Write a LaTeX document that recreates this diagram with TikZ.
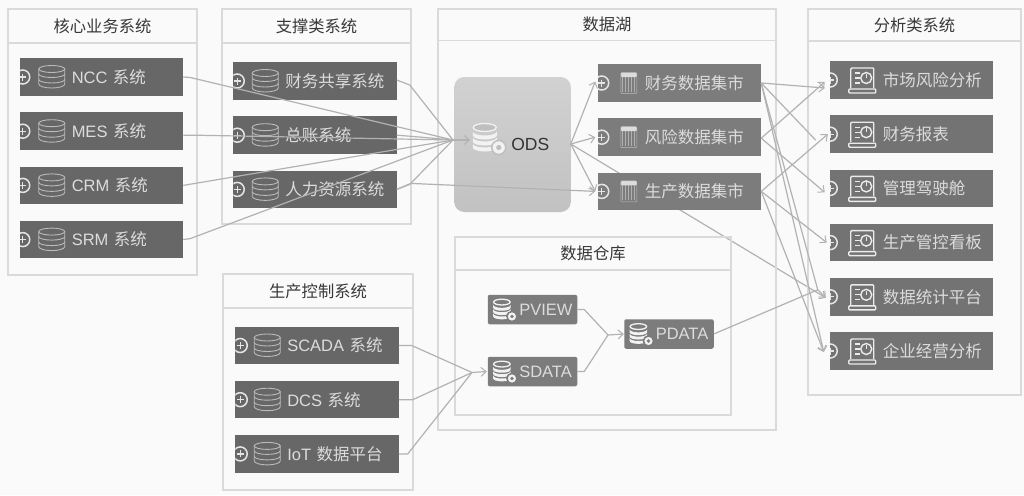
\documentclass[tikz,border=0pt]{standalone}
\usepackage{xcolor}
\usepackage{fontspec}
\setmainfont{Liberation Sans}
\newfontfamily\cjk{Noto Sans CJK SC}
\usetikzlibrary{arrows.meta,positioning,backgrounds}

\definecolor{pagebg}{HTML}{FAFAFA}
\definecolor{panelline}{HTML}{DADADA}
\definecolor{tiledark}{HTML}{676767}
\definecolor{tilemid}{HTML}{7C7C7C}
\definecolor{tileink}{HTML}{DCDCDC}
\definecolor{linkgray}{HTML}{B2B2B2}

% Little marks painted on the tiles: #1 tile, #2 offset of the plus
\newcommand{\plusglyph}[2]{
  \begin{scope}
    \clip (#1.north west) rectangle (#1.south east);
    \begin{scope}[shift={(#1.west)}]
      \draw[glyph, line width=1.5pt, draw=white!90!black] (#2,0) circle (7);
      \draw[glyph, line width=1.2pt, draw=white!90!black] (#2-3.5,0) -- (#2+3.5,0) (#2,-3.5) -- (#2,3.5);
    \end{scope}
  \end{scope}
}
\newcommand{\dbglyph}[1]{
  \begin{scope}[shift={(#1.west)}]
    \draw[glyph] (32,-8) ellipse (13 and 3.5);
    \draw[glyph] (19,-8) -- (19,7) arc[start angle=180, end angle=0, x radius=13, y radius=4] -- (45,-8);
    \draw[glyph] (19,-3) arc[start angle=180, end angle=0, x radius=13, y radius=3.5];
    \draw[glyph] (19,2.5) arc[start angle=180, end angle=0, x radius=13, y radius=3.5];
  \end{scope}
}
\newcommand{\tableglyph}[1]{
  \begin{scope}[shift={(#1.west)}]
    \draw[glyph, line width=.25pt, draw=tileink!55!tilemid, step=3] (24,-6) grid (38,9);
    \fill[tileink, rounded corners=1pt] (23,-10.5) rectangle (39,-6);
    \draw[glyph, line width=.5pt, rounded corners=1pt] (23,-10.5) rectangle (39,10.5);
  \end{scope}
}
\newcommand{\screenglyph}[1]{
  \begin{scope}[shift={(#1.west)}, glyph/.append style={draw=white!92!black}]
    \draw[glyph, line width=1.4pt, rounded corners=1pt] (21,8) -- (21,-12) -- (44,-12) -- (44,8);
    \draw[glyph, line width=1.4pt, rounded corners=1pt] (19,9) -- (46,9) -- (46,13) -- (19,13) -- cycle;
    \draw[glyph, line width=1.1pt] (25,-7) -- (30,-7) (25,-2) -- (30,-2) (25,3) -- (30,3);
    \draw[glyph, line width=1.4pt] (36.5,-2) circle (5.5);
    \draw[glyph, line width=1pt] (36.5,-2) -- (36.5,-6);
  \end{scope}
}
% #1 tile, #2 place, #3 scale, #4 colour of the gear's eye
\newcommand{\stackglyph}[4]{
  \begin{scope}[shift={(#1.west)}]
  \begin{scope}[shift={#2}, scale=#3]
    \draw[white!95!black, line width=1.3pt, fill=#4] (-4,-11) ellipse (11.5 and 4);
    \fill[white!95!black] (-16,-7) arc[start angle=180, end angle=0, x radius=12, y radius=4] -- (8,-3) arc[start angle=0, end angle=180, x radius=12, y radius=4] -- cycle;
    \fill[white!95!black] (-16,-1) arc[start angle=180, end angle=0, x radius=12, y radius=4] -- (8,3) arc[start angle=0, end angle=180, x radius=12, y radius=4] -- cycle;
    \fill[white!95!black] (-16,5) arc[start angle=180, end angle=0, x radius=12, y radius=4] -- (8,9) arc[start angle=0, end angle=180, x radius=12, y radius=4] -- cycle;
    \draw[#4, line width=1.5pt, fill=white!95!black] (10,9) circle (7);
    \fill[#4] (10,9) circle (2.6);
  \end{scope}
  \end{scope}
}

\begin{document}
\begin{tikzpicture}[
    x=1pt, y=-1pt,
    node distance=16.7pt,
    glyph/.style={draw=tileink!85!black, line width=.9pt},
    % Frames with a title strip
    panel/.style={draw=panelline, line width=1.2pt, outer sep=0pt, inner sep=0pt, anchor=north west},
    panelhead/.style={draw=panelline, line width=1.2pt, outer sep=0pt, inner sep=0pt, anchor=north, minimum height=34pt, text=black!78, font=\fontsize{16.3}{17}\selectfont\cjk},
    % Dark tiles, the text starts after the marks
    tile/.style={rectangle, inner sep=0pt, outer sep=0pt, minimum height=37.5pt, text width=163.5pt, align=left, text=tileink, font=\fontsize{16.5}{17}\selectfont, execute at begin node={\hspace*{#1}}},
    srcbox/.style={tile=52pt, fill=tiledark},
    martbox/.style={tile=47pt, fill=tilemid},
    reportbox/.style={tile=53pt, fill=tilemid!93!black},
    storebox/.style={rectangle, rounded corners=2pt, inner sep=0pt, outer sep=0pt, minimum height=29.5pt, text width=89.5pt, align=left, fill=tilemid, text=tileink, font=\fontsize{16.5}{17}\selectfont, execute at begin node={\hspace*{31.5pt}}},
    odsbox/.style={rectangle, rounded corners=10pt, inner sep=0pt, outer sep=0pt, minimum height=135pt, text width=116.5pt, align=left, top color=black!18, bottom color=black!24, text=black!80, font=\fontsize{17.5}{18}\selectfont, execute at begin node={\hspace*{57pt}}},
    link/.style={draw=linkgray, line width=1.2pt},
    arrow/.style={link, -{Straight Barb[length=5pt, width=9pt, line width=1pt]}}
  ]
  \path[use as bounding box] (0,0) rectangle (1024,495);

  % Frames
  \node[panel, minimum width=189pt, minimum height=266pt] (corepanel) at (8,9) {};
  \node[panelhead, minimum width=189pt] (corehead) at (corepanel.north) {核心业务系统};
  \node[panel, minimum width=189pt, minimum height=215pt] (backpanel) at (222,9) {};
  \node[panelhead, minimum width=189pt] (backhead) at (backpanel.north) {支撑类系统};
  \node[panel, minimum width=190pt, minimum height=216pt] (ctrlpanel) at (223,274) {};
  \node[panelhead, minimum width=190pt] (ctrlhead) at (ctrlpanel.north) {生产控制系统};
  \node[panel, minimum width=338pt, minimum height=421pt] (lakepanel) at (438,9) {};
  \node[panelhead, minimum width=338pt, minimum height=31.5pt] (lakehead) at (lakepanel.north) {数据湖};
  \node[panel, minimum width=276pt, minimum height=178pt] (dwpanel) at (455,237) {};
  \node[panelhead, minimum width=276pt, minimum height=33pt] (dwhead) at (dwpanel.north) {数据仓库};
  \node[panel, minimum width=213pt, minimum height=386pt] (bipanel) at (808,9) {};
  \node[panelhead, minimum width=213pt, minimum height=32pt] (bihead) at (bipanel.north) {分析类系统};

  % Source systems
  \node[srcbox] (ncc) at (101.5,77) {NCC {\cjk 系统}};
  \node[srcbox, below=of ncc] (mes) {MES {\cjk 系统}};
  \node[srcbox, below=of mes] (crm) {CRM {\cjk 系统}};
  \node[srcbox, below=of crm] (srm) {SRM {\cjk 系统}};

  \node[srcbox] (share) at (315,81) {\cjk 财务共享系统};
  \node[srcbox, below=of share] (ledger) {\cjk 总账系统};
  \node[srcbox, below=of ledger] (hr) {\cjk 人力资源系统};

  \node[srcbox] (scada) at (317,345.5) {SCADA {\cjk 系统}};
  \node[srcbox, below=of scada] (dcs) {DCS {\cjk 系统}};
  \node[srcbox, below=of dcs] (iot) {IoT {\cjk 数据平台}};

  % Lake
  \node[odsbox] (ods) at (512.5,144.5) {ODS};
  \node[martbox] (fmart) at (679.5,83) {\cjk 财务数据集市};
  \node[martbox, below=of fmart] (rmart) {\cjk 风险数据集市};
  \node[martbox, below=of rmart] (pmart) {\cjk 生产数据集市};

  % Warehouse
  \node[storebox] (pview) at (532.5,309.5) {PVIEW};
  \node[storebox] (sdata) at (532.5,371.5) {SDATA};
  \node[storebox] (pdata) at (669,334) {PDATA};

  % Reports
  \node[reportbox] (market) at (911.5,80) {\cjk 市场风险分析};
  \node[reportbox, below=of market] (finrep) {\cjk 财务报表};
  \node[reportbox, below=of finrep] (cockpit) {\cjk 管理驾驶舱};
  \node[reportbox, below=of cockpit] (board) {\cjk 生产管控看板};
  \node[reportbox, below=of board] (stats) {\cjk 数据统计平台};
  \node[reportbox, below=of stats] (biz) {\cjk 企业经营分析};

  % Marks
  \foreach \tile/\off in {ncc/3, mes/3, crm/3, srm/3, share/4, ledger/4, hr/4, scada/5, dcs/5, iot/5} {
    \plusglyph{\tile}{\off}
    \dbglyph{\tile}
  }
  \foreach \tile in {fmart, rmart, pmart} {
    \plusglyph{\tile}{4}
    \tableglyph{\tile}
  }
  \foreach \tile in {market, finrep, cockpit, board, stats, biz} {
    \plusglyph{\tile}{0.5}
    \screenglyph{\tile}
  }
  \foreach \tile in {pview, sdata, pdata} {
    \stackglyph{\tile}{(17,0.5)}{.72}{tilemid}
  }
  \stackglyph{ods}{(34.5,-6)}{1}{black!25}

  % Junctions in front of the targets
  \coordinate (odsin) at (453,140);
  \coordinate (odstip) at (470,140);
  \coordinate (sdatain) at (472,372.5);
  \coordinate (pdatain) at (608,335);

  % Into ODS
  \draw[link] (ncc.east) -- ++(7,0.5) -- (odsin);
  \draw[link] ([yshift=-4pt]mes.east) -- ++(12,0) -- (odsin);
  \draw[link] (crm.east) -- (odsin);
  \draw[link] (srm.east) -- ++(7,-1) -- (odsin);
  \draw[link] ([yshift=1pt]share.east) -- ++(13,5) -- (odsin);
  \draw[link] (ledger.east) -- ++(13,1) -- (odsin);
  \draw[link] (hr.east) -- ++(13,-5) -- (odsin);
  \draw[arrow] (odsin) -- (odstip);
  \draw[arrow] (hr.east) -- ++(14,-6) -- ([xshift=-2.5pt]pmart.west);

  % Out of ODS
  \draw[arrow] ([yshift=0.5pt]ods.east) -- ([xshift=-2.5pt, yshift=1.5pt]fmart.west);
  \draw[arrow] ([yshift=0.5pt]ods.east) -- ([xshift=-2.5pt]rmart.west);
  \draw[arrow] ([yshift=0.5pt]ods.east) -- ([xshift=-2.5pt]pmart.west);
  \begin{scope}[on background layer]
    \fill[pagebg] (0,0) rectangle (1024,495);
    \draw[arrow] ([yshift=0.5pt]ods.east) -- ([xshift=-4pt, yshift=-1pt]stats.west);
  \end{scope}

  % Marts to reports
  \draw[arrow] (fmart.east) -- ([xshift=-5pt, yshift=-8pt]market.west);
  \draw[link] (fmart.east) -- ([xshift=-14pt, yshift=-6pt]finrep.west);
  \draw[link] (fmart.east) -- ([xshift=-12pt, yshift=7pt]stats.west);
  \draw[arrow] (fmart.east) -- ([xshift=-6pt, yshift=-1pt]biz.west);
  \draw[arrow] ([yshift=-1pt]rmart.east) -- ([xshift=-5pt, yshift=-2pt]market.west);
  \draw[arrow] ([yshift=-1pt]rmart.east) -- ([xshift=-5pt, yshift=-4pt]cockpit.west);
  \draw[arrow] (pmart.east) -- ([xshift=-2pt]finrep.west);
  \draw[arrow] (pmart.east) -- ([xshift=-3pt]board.west);
  \draw[arrow] (pmart.east) -- ([xshift=-6pt, yshift=-1pt]biz.west);

  % Warehouse flow
  \draw[link] (scada.east) -- ++(13,0) -- (sdatain);
  \draw[link] (dcs.east) -- ++(14,0) -- (sdatain);
  \draw[link] (iot.east) -- ++(9,0) -- (sdatain);
  \draw[arrow] (sdatain) -- ([xshift=-1pt]sdata.west);
  \draw[link] (pview.east) -- ++(7,0) -- (pdatain);
  \draw[link] (sdata.east) -- ++(7,0) -- (pdatain);
  \draw[arrow] (pdatain) -- ([xshift=-0.5pt]pdata.west);
  \draw[arrow] (pdata.east) -- ([xshift=-12pt, yshift=7pt]stats.west) -- ([xshift=-4pt, yshift=-1pt]stats.west);
\end{tikzpicture}
\end{document}
